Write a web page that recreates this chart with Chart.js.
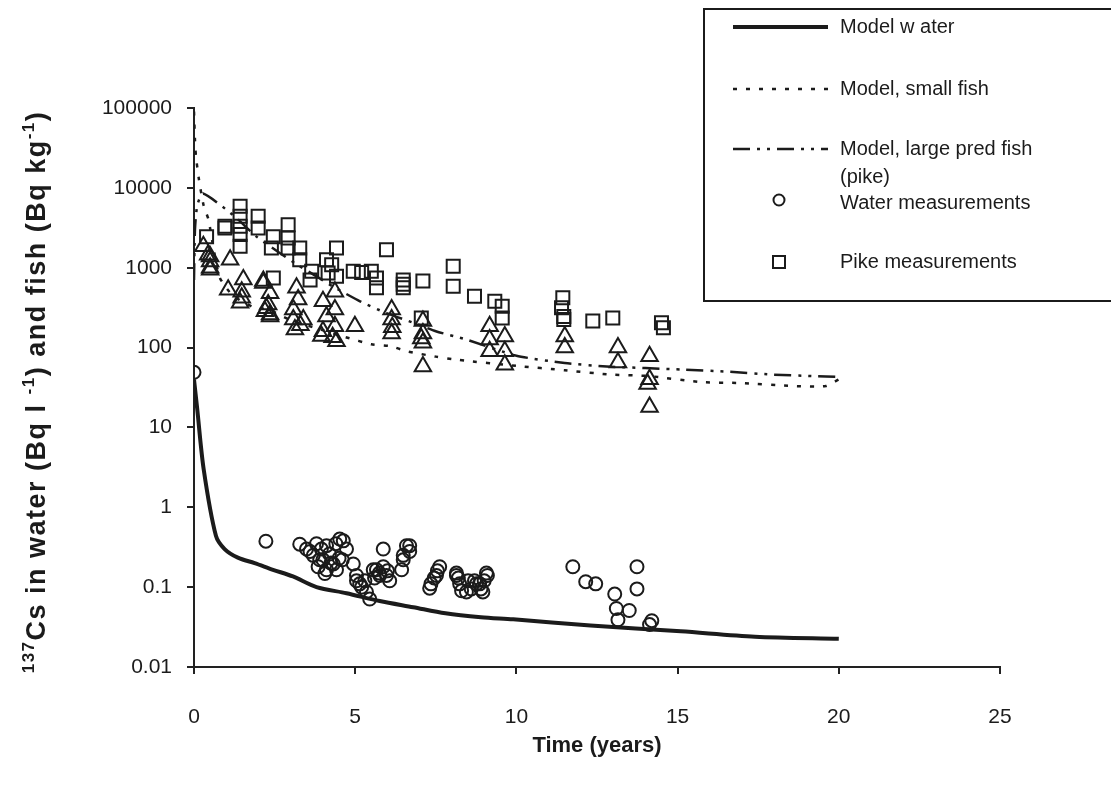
<!DOCTYPE html>
<html><head><meta charset="utf-8">
<script src="https://cdn.jsdelivr.net/npm/chart.js@4.4.1/dist/chart.umd.min.js"></script>
<style>html,body{margin:0;padding:0;background:#fff}#wrap{width:1111px;height:789px;position:relative}</style>
</head><body><div id="wrap"><canvas id="c" width="1111" height="789"></canvas></div>
<script>
// ---------- data ----------
const xTickValues = [0, 5, 10, 15, 20, 25];
const yTickValues = [0.01, 0.1, 1, 10, 100, 1000, 10000, 100000];
const yTickLabels = ['0.01', '0.1', '1', '10', '100', '1000', '10000', '100000'];
const xTitle = 'Time (years)';
const yTitleParts = [['137', true], ['Cs in water (Bq l ', false], ['-1', true], [') and fish (Bq kg', false], ['-1', true], [')', false]];
const legendLabels = ['Model w ater', 'Model, small fish', 'Model, large pred fish', '(pike)', 'Water measurements', 'Pike measurements'];

const modelWaterX = [0, 0.1, 0.3, 0.68, 0.95, 1.36, 1.88, 2.45, 3.07, 3.8, 4.73, 5.76, 6.8, 7.8, 8.9, 9.9, 12.3, 15.1, 17.4, 20];
const modelWaterY = [40, 17, 3.0, 0.44, 0.30, 0.234, 0.20, 0.165, 0.136, 0.10, 0.084, 0.067, 0.056, 0.047, 0.042, 0.0395, 0.033, 0.028, 0.024, 0.0226];

const modelSmallX = [0, 0.03, 0.06, 0.15, 0.3, 0.45, 0.6, 0.8, 1.2, 1.85, 2.3, 3.0, 4.0, 4.7, 5.5, 6.1, 6.6, 7.5, 8.2, 10, 11.5, 12.9, 14.1, 15.7, 16.9, 18.6, 19.6, 20];
const modelSmallY = [90000, 40000, 25000, 13000, 6000, 4000, 1800, 750, 450, 320, 300, 220, 165, 135, 110, 104, 90, 77, 70, 59, 52, 46, 44, 37, 36, 33, 33, 40];

const modelPikeX = [0, 0.03, 0.1, 0.28, 1.2, 1.94, 2.67, 3.2, 3.8, 4.3, 5.15, 5.97, 6.8, 7.5, 8.45, 10, 11.5, 12.8, 15.2, 16.5, 17.9, 19.2, 20];
const modelPikeY = [700, 3000, 6000, 8500, 4600, 2450, 1520, 1090, 780, 585, 380, 270, 205, 160, 126, 79, 64, 58, 53, 50, 46, 44, 43];

const waterMeasX = [0, 2.23, 3.28, 3.49, 3.6, 3.7, 3.8, 3.85, 3.9, 3.95, 4.0, 4.06, 4.11, 4.11, 4.2, 4.25, 4.32, 4.4, 4.42, 4.5, 4.52, 4.6, 4.63, 4.73, 4.94, 5.04, 5.04, 5.14, 5.2, 5.3, 5.35, 5.45, 5.56, 5.6, 5.66, 5.75, 5.76, 5.87, 5.87, 5.97, 6.0, 6.07, 6.44, 6.49, 6.49, 6.59, 6.69, 6.69, 7.31, 7.35, 7.45, 7.52, 7.55, 7.62, 8.14, 8.14, 8.2, 8.24, 8.3, 8.45, 8.5, 8.6, 8.7, 8.76, 8.86, 8.9, 8.96, 9.0, 9.07, 9.1, 11.75, 12.15, 12.46, 13.05, 13.1, 13.15, 13.5, 13.74, 13.74, 14.13, 14.2];
const waterMeasY = [49, 0.376, 0.345, 0.30, 0.28, 0.25, 0.35, 0.18, 0.22, 0.30, 0.22, 0.148, 0.33, 0.165, 0.26, 0.2, 0.195, 0.35, 0.165, 0.23, 0.40, 0.22, 0.38, 0.30, 0.195, 0.14, 0.12, 0.11, 0.10, 0.12, 0.087, 0.071, 0.165, 0.13, 0.165, 0.15, 0.14, 0.18, 0.30, 0.14, 0.16, 0.12, 0.165, 0.22, 0.25, 0.33, 0.28, 0.33, 0.097, 0.11, 0.13, 0.14, 0.16, 0.18, 0.14, 0.15, 0.13, 0.11, 0.09, 0.087, 0.12, 0.095, 0.12, 0.11, 0.11, 0.095, 0.087, 0.12, 0.15, 0.14, 0.18, 0.117, 0.11, 0.082, 0.054, 0.039, 0.051, 0.18, 0.095, 0.034, 0.038];

const smallFishMeasX = [0.29, 0.44, 0.5, 0.5, 0.5, 0.5, 1.12, 1.06, 1.53, 1.48, 1.48, 1.43, 2.15, 2.15, 2.36, 2.3, 2.25, 2.2, 2.36, 2.36, 3.18, 3.23, 3.08, 3.08, 3.13, 3.39, 3.3, 4.0, 4.11, 4.0, 3.95, 4.37, 4.37, 4.37, 4.3, 4.42, 4.99, 6.13, 6.15, 6.13, 6.13, 7.1, 7.1, 7.05, 7.1, 7.1, 9.17, 9.17, 9.17, 9.64, 9.64, 9.64, 11.5, 11.5, 13.15, 13.15, 14.13, 14.13, 14.07, 14.13];
const smallFishMeasY = [1860, 1450, 1380, 1200, 1000, 945, 1260, 530, 710, 500, 420, 365, 680, 645, 480, 345, 310, 285, 260, 245, 560, 400, 300, 225, 168, 225, 190, 380, 245, 160, 140, 500, 300, 185, 135, 120, 185, 300, 180, 225, 150, 215, 150, 130, 115, 58, 185, 126, 90, 138, 90, 61, 138, 100, 100, 65, 78, 40, 35, 18];

const pikeMeasX = [0.39, 0.96, 0.96, 1.43, 1.43, 1.43, 1.43, 1.43, 1.99, 1.99, 2.46, 2.4, 2.46, 2.92, 2.92, 2.92, 3.28, 3.28, 3.65, 3.6, 4.11, 4.27, 4.42, 4.42, 4.16, 4.94, 5.2, 5.5, 5.66, 5.66, 5.97, 6.49, 6.49, 6.49, 7.1, 7.05, 8.04, 8.04, 8.7, 9.33, 9.56, 9.56, 11.44, 11.4, 11.47, 11.47, 12.37, 12.99, 14.5, 14.56];
const pikeMeasY = [2450, 3300, 3150, 5900, 4400, 3300, 2600, 1860, 4400, 3150, 2450, 1760, 745, 3460, 2350, 1760, 1760, 1260, 900, 700, 1260, 1090, 1760, 780, 860, 900, 870, 900, 745, 560, 1680, 700, 620, 560, 680, 235, 1040, 585, 440, 380, 330, 235, 420, 315, 245, 225, 215, 235, 205, 177];

// ---------- helpers ----------
const INK = '#1b1b1b';
const FONT = '"Liberation Sans", Arial, Helvetica, sans-serif';
const pts = (xs, ys) => xs.map((x, i) => ({x: x, y: ys[i]}));

const dsModelWater = {label: legendLabels[0], data: pts(modelWaterX, modelWaterY), showLine: true, borderColor: INK, borderWidth: 4, pointRadius: 0, tension: 0.3, borderDash: []};
const dsModelSmall = {label: legendLabels[1], data: pts(modelSmallX, modelSmallY), showLine: true, borderColor: INK, borderWidth: 2.5, pointRadius: 0, tension: 0.2, borderDash: [4, 9]};
const dsModelPike = {label: legendLabels[2], data: pts(modelPikeX, modelPikeY), showLine: true, borderColor: INK, borderWidth: 2.5, pointRadius: 0, tension: 0.2, borderDash: [17, 7, 3, 7, 3, 7]};
const dsWater = {label: legendLabels[4], data: pts(waterMeasX, waterMeasY), showLine: false, pointStyle: 'circle', pointRadius: 6.5, borderWidth: 2, borderColor: INK, backgroundColor: 'rgba(0,0,0,0)'};
const dsSmallFish = {label: 'Small fish measurements', data: pts(smallFishMeasX, smallFishMeasY), showLine: false, pointStyle: 'triangle', pointRadius: 9.5, borderWidth: 2, borderColor: INK, backgroundColor: 'rgba(0,0,0,0)'};
const dsPike = {label: legendLabels[5], data: pts(pikeMeasX, pikeMeasY), showLine: false, pointStyle: 'rect', pointRadius: 9.2, borderWidth: 2, borderColor: INK, backgroundColor: 'rgba(0,0,0,0)'};

const decorPlugin = {
  id: 'decor',
  afterDraw(chart) {
    const ctx = chart.ctx;
    const ca = chart.chartArea;
    ctx.save();
    ctx.fillStyle = INK; ctx.strokeStyle = INK;
    // x title
    ctx.font = 'bold 22px ' + FONT;
    ctx.textAlign = 'center'; ctx.textBaseline = 'middle';
    ctx.fillText(xTitle, (ca.left + ca.right) / 2, 746);
    // y title with superscripts
    const big = 'bold 27px ' + FONT, small = 'bold 17px ' + FONT;
    if ('letterSpacing' in ctx) ctx.letterSpacing = '1.5px';
    let total = 0;
    const widths = yTitleParts.map(p => { ctx.font = p[1] ? small : big; const w = ctx.measureText(p[0]).width; total += w; return w; });
    ctx.translate(38, 392);
    ctx.rotate(-Math.PI / 2);
    ctx.textAlign = 'left'; ctx.textBaseline = 'middle';
    let x = -total / 2;
    yTitleParts.forEach((p, i) => { ctx.font = p[1] ? small : big; ctx.fillText(p[0], x, p[1] ? -9 : 0); x += widths[i]; });
    ctx.setTransform(1, 0, 0, 1, 0, 0);
    if ('letterSpacing' in ctx) ctx.letterSpacing = '0px';
    // legend box
    ctx.lineWidth = 2;
    ctx.setLineDash([]);
    ctx.fillStyle = '#fff';
    ctx.fillRect(704, 9, 420, 292);
    ctx.strokeRect(704, 9, 420, 292);
    ctx.fillStyle = INK;
    const lx0 = 733, lx1 = 828, tx = 840, mx = 779;
    ctx.font = '20px ' + FONT; ctx.textAlign = 'left'; ctx.textBaseline = 'middle';
    const rows = [27, 89, 149, 177, 203, 262];
    const lineSets = [dsModelWater, dsModelSmall, dsModelPike];
    lineSets.forEach((d, i) => {
      ctx.beginPath(); ctx.lineWidth = d.borderWidth; ctx.setLineDash(d.borderDash);
      ctx.moveTo(lx0, rows[i]); ctx.lineTo(lx1, rows[i]); ctx.stroke();
    });
    ctx.setLineDash([]);
    legendLabels.forEach((t, i) => ctx.fillText(t, tx, rows[i]));
    ctx.lineWidth = 2;
    ctx.beginPath(); ctx.arc(mx, rows[4] - 3, 5.5, 0, Math.PI * 2); ctx.stroke();
    ctx.strokeRect(mx - 6, rows[5] - 6, 12, 12);
    ctx.restore();
  }
};

new Chart(document.getElementById('c'), {
  type: 'scatter',
  data: {datasets: [dsModelWater, dsModelSmall, dsModelPike, dsWater, dsSmallFish, dsPike]},
  options: {
    responsive: false, animation: false, devicePixelRatio: 1,
    layout: {padding: {top: 108, right: 111, left: 0, bottom: 0}},
    plugins: {legend: {display: false}, tooltip: {enabled: false}, title: {display: false}},
    elements: {line: {fill: false}},
    scales: {
      x: {
        type: 'linear', min: 0, max: 25,
        afterBuildTicks: s => { s.ticks = xTickValues.map(v => ({value: v})); },
        afterFit: s => { s.height = 122; },
        ticks: {color: INK, font: {family: FONT, size: 21}, padding: 31, maxRotation: 0, callback: v => String(v)},
        grid: {display: true, drawOnChartArea: false, drawTicks: true, tickLength: 7, color: '#222', lineWidth: 2},
        border: {display: true, color: '#222', width: 2}
      },
      y: {
        type: 'logarithmic', min: 0.01, max: 100000,
        afterBuildTicks: s => { s.ticks = yTickValues.map(v => ({value: v})); },
        afterFit: s => { s.width = 194; },
        ticks: {color: INK, font: {family: FONT, size: 21}, padding: 15, callback: (v) => { const i = yTickValues.findIndex(t => Math.abs(Math.log10(t) - Math.log10(v)) < 1e-6); return i >= 0 ? yTickLabels[i] : ''; }},
        grid: {display: true, drawOnChartArea: false, drawTicks: true, tickLength: 7, color: '#222', lineWidth: 2},
        border: {display: true, color: '#222', width: 2}
      }
    }
  },
  plugins: [decorPlugin]
});
</script></body></html>
